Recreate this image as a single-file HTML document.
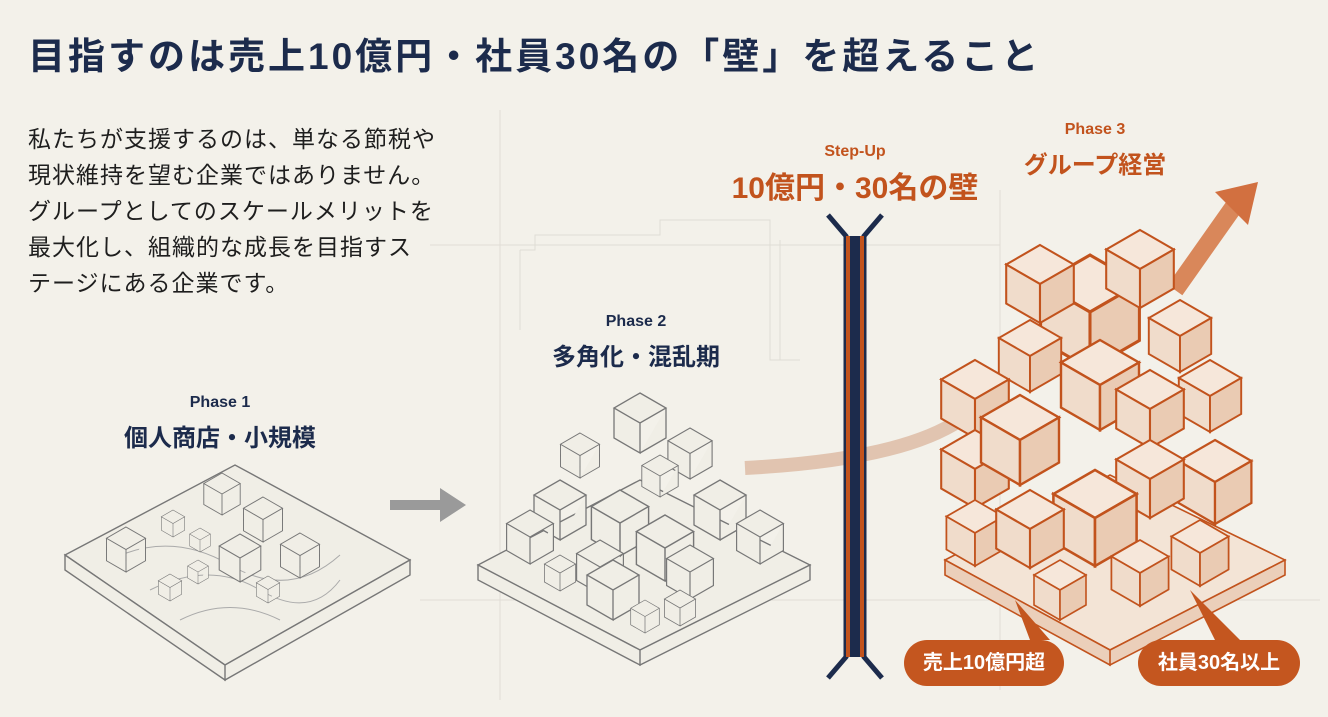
<!DOCTYPE html>
<html><head><meta charset="utf-8"><style>
body{margin:0;width:1328px;height:717px;background:#f3f1ea;overflow:hidden;position:relative;font-family:"Liberation Sans","Noto Sans CJK JP",sans-serif;}
h1{position:absolute;left:28px;top:26px;margin:0;font-size:37px;font-weight:bold;color:#1c2b4c;letter-spacing:3px;white-space:nowrap;}
.body{position:absolute;left:28px;top:121px;font-size:23px;line-height:36px;color:#1e1e1e;letter-spacing:1px;white-space:nowrap;}
.ph{position:absolute;text-align:center;color:#1c2b4c;font-weight:bold;transform:translateX(-50%);white-space:nowrap;}
.ph .a{font-size:16px;}
.ph .b{font-size:24px;margin-top:6px;}
.pill{position:absolute;background:#c4561f;color:#fff;font-size:20px;font-weight:bold;border-radius:24px;text-align:center;line-height:46px;height:46px;}
</style></head><body>
<svg width="1328" height="717" style="position:absolute;left:0;top:0">
<defs>
<g id="cg"><path d="M0 0L26 15L0 30L-26 15Z M-26 15L-26 45L0 60L0 30 M26 15L26 45L0 60" fill="#f0eee6" stroke="#777" stroke-width="1.3"/></g>
<g id="co"><path d="M0 0L26 15L0 30L-26 15Z" fill="#f6e7da" stroke="#c2531d" stroke-width="1.6"/><path d="M-26 15L-26 45L0 60L0 30Z" fill="#f0dccb" stroke="#c2531d" stroke-width="1.6"/><path d="M26 15L26 45L0 60L0 30Z" fill="#eacbb3" stroke="#c2531d" stroke-width="1.6"/></g>
</defs>
<g stroke="#d3d0c8" stroke-width="1" fill="none" opacity="0.6">
<path d="M520 250H535V235H660V220H770V360H800"/><path d="M520 250V330"/><path d="M780 240V360"/>
<path d="M430 245H1000 M500 110V700 M1000 190V690 M420 600H1320"/>
</g>
<g stroke="#777" stroke-width="1.4" fill="#f0eee6">
<path d="M65 555L235 465L410 560L225 665Z"/>
<path d="M65 555V570L225 680V665Z M225 665V680L410 575V560Z"/>
</g>
<g stroke="#aaa" fill="none"><path d="M110 560q60-30 120 5t110-10 M150 590q60-30 110 0t80-10 M180 620q50-25 100 0"/></g>
<use href="#cg" transform="translate(222,473) scale(0.7)"/>
<use href="#cg" transform="translate(263,497) scale(0.75)"/>
<use href="#cg" transform="translate(173,510) scale(0.45)"/>
<use href="#cg" transform="translate(126,527) scale(0.75)"/>
<use href="#cg" transform="translate(200,528) scale(0.4)"/>
<use href="#cg" transform="translate(240,534) scale(0.8)"/>
<use href="#cg" transform="translate(300,533) scale(0.75)"/>
<use href="#cg" transform="translate(198,560) scale(0.4)"/>
<use href="#cg" transform="translate(170,574) scale(0.45)"/>
<use href="#cg" transform="translate(268,576) scale(0.45)"/>
<path d="M390 500H440V488L466 505L440 522V510H390Z" fill="#9a9a9a"/>
<g stroke="#777" stroke-width="1.4" fill="#f0eee6">
<path d="M478 565L640 480L810 565L640 650Z"/>
<path d="M478 565V580L640 665V650Z M640 650V665L810 580V565Z"/>
</g>
<use href="#cg" transform="translate(640,393) scale(1)"/>
<use href="#cg" transform="translate(580,433) scale(0.75)"/>
<use href="#cg" transform="translate(690,428) scale(0.85)"/>
<use href="#cg" transform="translate(560,480) scale(1)"/>
<use href="#cg" transform="translate(660,455) scale(0.7)"/>
<use href="#cg" transform="translate(720,480) scale(1)"/>
<use href="#cg" transform="translate(620,490) scale(1.1)"/>
<use href="#cg" transform="translate(530,510) scale(0.9)"/>
<use href="#cg" transform="translate(760,510) scale(0.9)"/>
<use href="#cg" transform="translate(665,515) scale(1.1)"/>
<use href="#cg" transform="translate(600,540) scale(0.9)"/>
<use href="#cg" transform="translate(690,545) scale(0.9)"/>
<use href="#cg" transform="translate(560,555) scale(0.6)"/>
<use href="#cg" transform="translate(613,560) scale(1)"/>
<use href="#cg" transform="translate(680,590) scale(0.6)"/>
<use href="#cg" transform="translate(645,600) scale(0.55)"/>
<path d="M745 468Q900 460 960 420" stroke="#dcb9a1" stroke-width="14" fill="none" opacity="0.8"/>
<path d="M1175 290L1235 205" stroke="#d9875a" stroke-width="18"/>
<path d="M1215 192L1258 182L1248 225Z" fill="#d27040"/>
<g stroke="#c2531d" stroke-width="1.6" fill="#f3e4d6">
<path d="M945 560L1110 475L1285 560L1110 650Z"/>
<path d="M945 560V575L1110 665V650Z M1110 650V665L1285 575V560Z" fill="#ebcfba"/>
</g>
<use href="#co" transform="translate(1090,255) scale(1.9)"/>
<use href="#co" transform="translate(1040,245) scale(1.3)"/>
<use href="#co" transform="translate(1140,230) scale(1.3)"/>
<use href="#co" transform="translate(1180,300) scale(1.2)"/>
<use href="#co" transform="translate(1030,320) scale(1.2)"/>
<use href="#co" transform="translate(1100,340) scale(1.5)"/>
<use href="#co" transform="translate(1210,360) scale(1.2)"/>
<use href="#co" transform="translate(975,360) scale(1.3)"/>
<use href="#co" transform="translate(1150,370) scale(1.3)"/>
<use href="#co" transform="translate(975,430) scale(1.3)"/>
<use href="#co" transform="translate(1215,440) scale(1.4)"/>
<use href="#co" transform="translate(1020,395) scale(1.5)"/>
<use href="#co" transform="translate(1150,440) scale(1.3)"/>
<use href="#co" transform="translate(975,500) scale(1.1)"/>
<use href="#co" transform="translate(1095,470) scale(1.6)"/>
<use href="#co" transform="translate(1030,490) scale(1.3)"/>
<use href="#co" transform="translate(1200,520) scale(1.1)"/>
<use href="#co" transform="translate(1140,540) scale(1.1)"/>
<use href="#co" transform="translate(1060,560) scale(1)"/>
<path d="M1015 600L1030 640L1050 640Z" fill="#c4561f"/>
<path d="M1190 590L1215 640L1240 640Z" fill="#c4561f"/>
<path d="M828 215L846 236V657L828 678" stroke="#1c2b4c" stroke-width="5" fill="none"/>
<path d="M882 215L864 236V657L882 678" stroke="#1c2b4c" stroke-width="5" fill="none"/>
<rect x="846" y="236" width="18" height="421" fill="#c2531d"/>
<rect x="850" y="236" width="10" height="421" fill="#1c2b4c"/>
</svg>
<h1>目指すのは売上10億円・社員30名の「壁」を超えること</h1>
<div class="body">私たちが支援するのは、単なる節税や<br>現状維持を望む企業ではありません。<br>グループとしてのスケールメリットを<br>最大化し、組織的な成長を目指すス<br>テージにある企業です。</div>
<div class="ph" style="left:220px;top:394px"><div class="a">Phase 1</div><div class="b">個人商店・小規模</div></div>
<div class="ph" style="left:636px;top:313px"><div class="a">Phase 2</div><div class="b">多角化・混乱期</div></div>
<div class="ph" style="left:855px;top:143px;color:#c2531d"><div class="a">Step-Up</div><div class="b" style="font-size:30px;margin-top:2px">10億円・30名の壁</div></div>
<div class="ph" style="left:1095px;top:121px;color:#c2531d"><div class="a">Phase 3</div><div class="b">グループ経営</div></div>
<div class="pill" style="left:904px;top:640px;width:160px">売上10億円超</div>
<div class="pill" style="left:1138px;top:640px;width:162px">社員30名以上</div>
</body></html>
